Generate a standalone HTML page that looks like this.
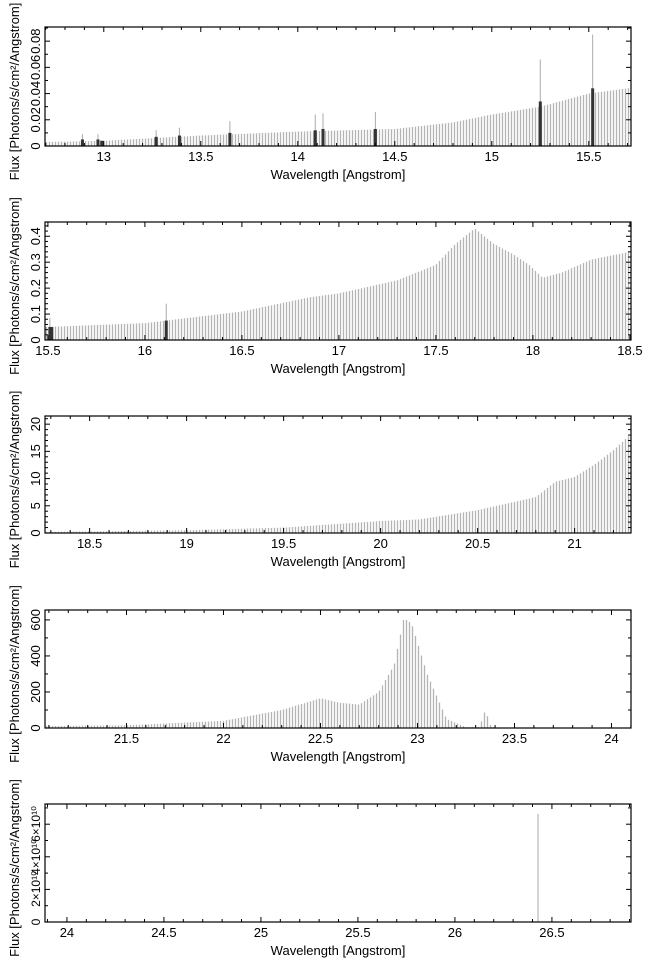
<!DOCTYPE html>
<html><head><meta charset="utf-8"><style>
body{margin:0;background:#fff;}
svg{display:block;font-family:"Liberation Sans",sans-serif;}
</style></head><body>
<svg id="s" width="653" height="972" xmlns="http://www.w3.org/2000/svg"></svg>
<script>
const S=document.getElementById('s');let h='';
const L=45,R=631,PX=194;
const panels=[
{top:27,bot:146,x0:12.697,ymax:0.0908,yt:[[0,'0'],[0.02,'0.02'],[0.04,'0.04'],[0.06,'0.06'],[0.08,'0.08']],ym:0.01,
 f:[[12.69,0.003],[13,0.004],[13.5,0.008],[14,0.011],[14.5,0.013],[14.8,0.018],[15,0.024],[15.25,0.030],[15.5,0.040],[15.75,0.045]],
 dark:[[12.89,0.005,0.009],[12.97,0.005,0.009],[12.99,0.004,0.004],[13.27,0.007,0.012],[13.39,0.008,0.014],[13.65,0.010,0.019],[14.09,0.012,0.024],[14.13,0.013,0.025],[14.4,0.013,0.026],[15.25,0.034,0.066],[15.52,0.044,0.085]],
 xt:[13,13.5,14,14.5,15,15.5]},
{top:222,bot:340,x0:15.485,ymax:0.455,yt:[[0,'0'],[0.1,'0.1'],[0.2,'0.2'],[0.3,'0.3'],[0.4,'0.4']],ym:0.02,
 f:[[15.48,0.05],[16,0.065],[16.5,0.11],[16.85,0.165],[17,0.18],[17.3,0.23],[17.5,0.29],[17.6,0.37],[17.7,0.43],[17.8,0.37],[17.9,0.33],[17.98,0.29],[18.05,0.24],[18.15,0.26],[18.3,0.31],[18.5,0.34]],
 dark:[[15.51,0.05,0.085],[15.52,0.05,0.05],[16.11,0.075,0.14]],
 xt:[15.5,16,16.5,17,17.5,18,18.5]},
{top:416,bot:533,x0:18.27,ymax:21.5,yt:[[0,'0'],[5,'5'],[10,'10'],[15,'15'],[20,'20']],ym:1,
 f:[[18.27,0.2],[19,0.5],[19.5,1],[20,2.2],[20.2,2.5],[20.5,4.2],[20.8,6.6],[20.9,9.4],[21,10.3],[21.1,12.5],[21.2,15.2],[21.33,19.5]],
 dark:[],xt:[18.5,19,19.5,20,20.5,21]},
{top:610,bot:728,x0:21.08,ymax:655,yt:[[0,'0'],[200,'200'],[400,'400'],[600,'600']],ym:100,
 f:[[21.0,10],[21.5,15],[22,40],[22.3,100],[22.5,165],[22.6,140],[22.7,130],[22.8,200],[22.88,350],[22.93,610],[22.97,580],[23.05,300],[23.15,50],[23.25,5],[23.32,5],[23.35,100],[23.38,5],[23.45,0],[24.3,0]],
 dark:[],xt:[21.5,22,22.5,23,23.5,24]},
{top:804,bot:922,x0:23.887,ymax:1,yt:[],ym:0,f:[[23,0],[27,0]],dark:[],xt:[24,24.5,25,25.5,26,26.5]}
];
function interp(f,x){for(let i=0;i<f.length-1;i++){if(x>=f[i][0]&&x<=f[i+1][0]){const t=(x-f[i][0])/(f[i+1][0]-f[i][0]);return f[i][1]+t*(f[i+1][1]-f[i][1]);}}return 0;}
panels.forEach((p,k)=>{
 const H=p.bot-p.top,Y=v=>p.bot-v/p.ymax*H,X=w=>L+(w-p.x0)*PX;
 for(let x=L+1.5;x<R;x+=3){const w=p.x0+(x-L)/PX;const v=interp(p.f,w);if(v>0)h+=`<line x1="${x}" y1="${p.bot}" x2="${x}" y2="${Math.max(p.top,Y(v))}" stroke="#b4b4b4" stroke-width="1.3"/>`;}
 p.dark.forEach(d=>{const x=X(d[0]);h+=`<line x1="${x}" y1="${Y(d[2])}" x2="${x}" y2="${p.bot}" stroke="#aaa" stroke-width="1"/><rect x="${x-1.5}" y="${Y(d[1])}" width="3" height="${p.bot-Y(d[1])}" fill="#333"/>`;});
 if(k==4){h+=`<line x1="538" y1="814" x2="538" y2="922" stroke="#aaa" stroke-width="1"/>`;}
 for(let w=Math.ceil(p.x0*10)/10;w<p.x0+586/PX;w+=0.1){const x=X(w);const maj=Math.abs(w*2-Math.round(w*2))<0.01;const t=maj?5:3;h+=`<line x1="${x}" y1="${p.bot}" x2="${x}" y2="${p.bot-t}" stroke="#000"/><line x1="${x}" y1="${p.top}" x2="${x}" y2="${p.top+t}" stroke="#000"/>`;}
 p.xt.forEach(w=>{h+=`<text x="${X(w)}" y="${p.bot+15}" font-size="13" text-anchor="middle">${w}</text>`;});
 if(p.ym){for(let v=0;v<=p.ymax;v+=p.ym){const y=Y(v);const maj=p.yt.some(t=>Math.abs(t[0]-v)<p.ym/10);const t=maj?5:3;h+=`<line x1="${L}" y1="${y}" x2="${L+t}" y2="${y}" stroke="#000"/><line x1="${R}" y1="${y}" x2="${R-t}" y2="${y}" stroke="#000"/>`;}}
 p.yt.forEach(t=>{const y=Y(t[0]);h+=`<text transform="translate(${L-5},${y}) rotate(-90)" font-size="13" text-anchor="middle">${t[1]}</text>`;});
 if(k==4){[[922,'0',0],[889,'2×10¹⁰',1],[857,'4×10¹⁰',1],[824,'6×10¹⁰',1]].forEach(a=>{h+=`<text transform="translate(40,${a[0]}) rotate(-90)" font-size="12" text-anchor="middle">${a[1]}</text>`;});
  for(let y=922;y>804;y-=16.3){const t=(Math.round((922-y)/16.3)%2==0)?5:3;h+=`<line x1="${L}" y1="${y}" x2="${L+t}" y2="${y}" stroke="#000"/><line x1="${R}" y1="${y}" x2="${R-t}" y2="${y}" stroke="#000"/>`;}}
 h+=`<rect x="${L}" y="${p.top}" width="${R-L}" height="${H}" fill="none" stroke="#000" stroke-width="1.2"/>`;
 h+=`<text x="338" y="${p.bot+33}" font-size="13" text-anchor="middle">Wavelength [Angstrom]</text>`;
 h+=`<text transform="translate(19,${p.top+H/2+5}) rotate(-90)" font-size="13" text-anchor="middle">Flux [Photons/s/cm²/Angstrom]</text>`;
});
S.innerHTML=h;
</script>
</body></html>
